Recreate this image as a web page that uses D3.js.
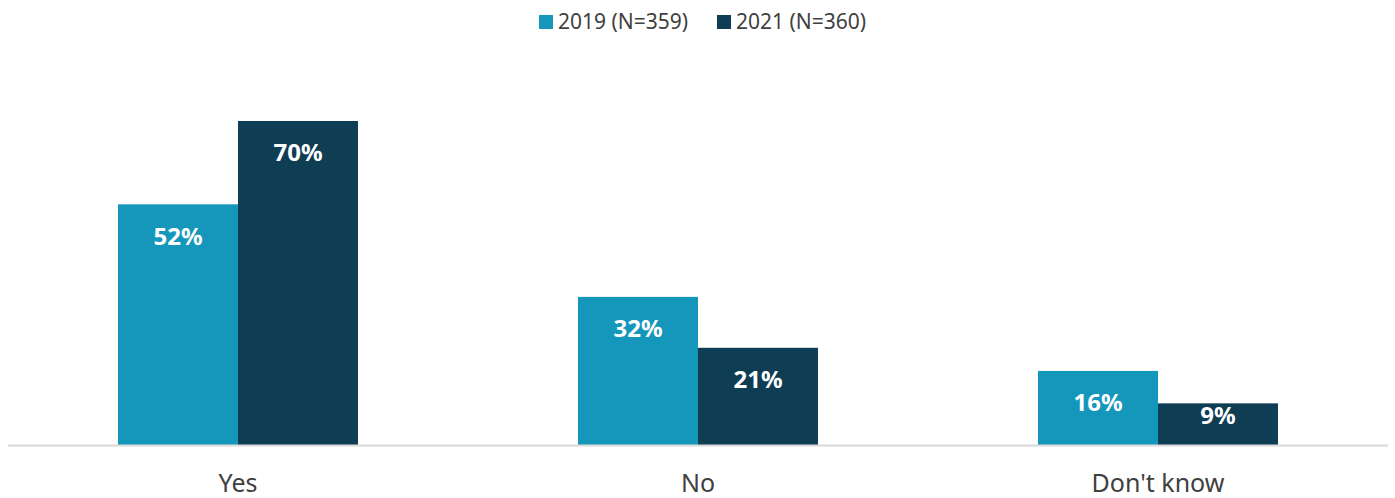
<!DOCTYPE html>
<html>
<head>
<meta charset="utf-8">
<script src="https://cdn.jsdelivr.net/npm/d3@7"></script>
<style>
  body { margin: 0; background: #fff; }
  text { font-family: "Source Sans Pro", "Noto Sans", sans-serif; }
</style>
</head>
<body>
<div id="chart"></div>
<script>
const categories = ["Yes", "No", "Don't know"];
const seriesNames = ["2019 (N=359)", "2021 (N=360)"];
const values2019 = [52, 32, 16];
const values2021 = [70, 21, 9];
const colors = ["#1596bb", "#0e3d54"];

const width = 1395, height = 498;
const margin = { top: 50, right: 7, bottom: 53, left: 8 };
const baseY = height - margin.bottom;

const svg = d3.select("#chart").append("svg").attr("width", width).attr("height", height);

const x0 = d3.scaleBand().domain(categories).range([margin.left, width - margin.right]).paddingInner(0).paddingOuter(0);
const x1 = d3.scaleBand().domain([0, 1]).range([0, 240]);
const y = d3.scaleLinear().domain([0, 70]).range([baseY, 121]);

const rows = categories.map((c, i) => ({ cat: c, vals: [values2019[i], values2021[i]] }));

const groups = svg.selectAll("g.grp").data(rows).join("g")
    .attr("class", "grp")
    .attr("transform", d => `translate(${x0(d.cat) + x0.bandwidth() / 2 - 120},0)`);

groups.selectAll("rect").data(d => d.vals.map((v, j) => ({ v, j }))).join("rect")
    .attr("x", d => x1(d.j))
    .attr("y", d => y(d.v))
    .attr("width", x1.bandwidth())
    .attr("height", d => baseY - y(d.v))
    .attr("fill", d => colors[d.j]);

groups.selectAll("text.val").data(d => d.vals.map((v, j) => ({ v, j }))).join("text")
    .attr("class", "val")
    .attr("x", d => x1(d.j) + x1.bandwidth() / 2)
    .attr("y", d => Math.min(y(d.v) + 32, baseY - 29))
    .attr("dy", "0.35em")
    .attr("text-anchor", "middle")
    .attr("fill", "#fff")
    .attr("font-weight", "bold")
    .attr("font-size", 24)
    .text(d => d.v + "%");

// baseline
svg.append("line")
    .attr("x1", margin.left).attr("x2", width - margin.right)
    .attr("y1", baseY + 0.5).attr("y2", baseY + 0.5)
    .attr("stroke", "#d9d9d9").attr("stroke-width", 2);

// category labels
svg.selectAll("text.cat").data(categories).join("text")
    .attr("class", "cat")
    .attr("x", d => x0(d) + x0.bandwidth() / 2)
    .attr("y", 483)
    .attr("dy", "0.35em")
    .attr("text-anchor", "middle")
    .attr("fill", "#404040")
    .attr("font-size", 25)
    .text(d => d);

// legend
const legendX = [539, 717];
const legend = svg.selectAll("g.leg").data(seriesNames).join("g")
    .attr("class", "leg")
    .attr("transform", (d, i) => `translate(${legendX[i]},15)`);
legend.append("rect").attr("width", 14).attr("height", 14).attr("fill", (d, i) => colors[i]);
legend.append("text")
    .attr("x", 19).attr("y", 7).attr("dy", "0.35em")
    .attr("fill", "#404040").attr("font-size", 21)
    .text(d => d);
</script>
</body>
</html>
